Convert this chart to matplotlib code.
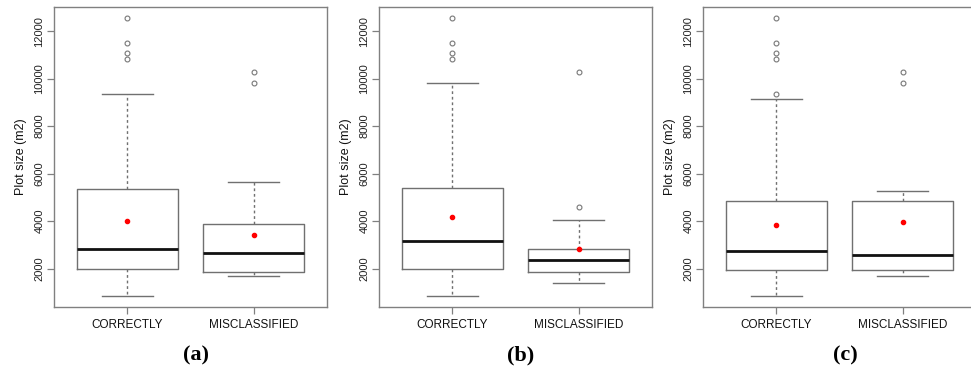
import matplotlib
matplotlib.use('AGG')
import matplotlib.pyplot as plt

plt.rcParams['font.family'] = ['Liberation Sans', 'DejaVu Sans']

groups = ["CORRECTLY", "MISCLASSIFIED"]
panel_labels = ["(a)", "(b)", "(c)"]
yticks = [2000, 4000, 6000, 8000, 10000, 12000]

# per panel: [whislo, q1, med, q3, whishi, mean], fliers
a_correct = [850, 1970, 2810, 5370, 9335, 4005]
a_correct_out = [12560, 11495, 11090, 10835]
a_mis = [1690, 1875, 2675, 3880, 5645, 3430]
a_mis_out = [10300, 9800]

b_correct = [850, 1970, 3150, 5395, 9800, 4190]
b_correct_out = [12560, 11495, 11090, 10835]
b_mis = [1410, 1860, 2365, 2840, 4060, 2815]
b_mis_out = [10300, 4610]

c_correct = [850, 1945, 2760, 4860, 9165, 3840]
c_correct_out = [12560, 11495, 11090, 10835, 9335]
c_mis = [1705, 1945, 2590, 4835, 5280, 3980]
c_mis_out = [10300, 9800]

panels = [
    [(a_correct, a_correct_out), (a_mis, a_mis_out)],
    [(b_correct, b_correct_out), (b_mis, b_mis_out)],
    [(c_correct, c_correct_out), (c_mis, c_mis_out)],
]

edge = '#707070'
frame = '#808080'

fig = plt.figure(figsize=(9.71, 3.82), dpi=100)
lefts = [54, 379, 703]

for i, panel in enumerate(panels):
    ax = fig.add_axes([lefts[i] / 971, 1 - 307 / 382, 273 / 971, 300 / 382])
    stats = []
    for name, (s, out) in zip(groups, panel):
        stats.append(dict(label=name, whislo=s[0], q1=s[1], med=s[2], q3=s[3],
                          whishi=s[4], mean=s[5], fliers=out))
    ax.bxp(stats, positions=[1, 2], widths=0.8, showmeans=True, patch_artist=False,
           boxprops=dict(color=edge, lw=1.0),
           whiskerprops=dict(color=edge, lw=1.0, linestyle=(0, (2, 2))),
           capprops=dict(color=edge, lw=1.0),
           capwidths=0.4,
           medianprops=dict(color='#111111', lw=2.0),
           meanprops=dict(marker='o', markerfacecolor='red', markeredgecolor='red', markersize=3),
           flierprops=dict(marker='o', markerfacecolor='none', markeredgecolor='#777777',
                           markersize=3.5, markeredgewidth=0.8))
    ax.set_xlim(0.42, 2.58)
    ax.set_ylim(382, 13020)
    ax.set_yticks(yticks)
    ax.set_yticklabels([str(t) for t in yticks], rotation=90, va='center', fontsize=8, color='#222222')
    ax.set_xticks([1, 2])
    ax.set_xticklabels(groups, fontsize=8.5, color='#111111')
    ax.tick_params(length=5, color=frame, width=0.9)
    ax.tick_params(axis='y', pad=2)
    ax.tick_params(axis='x', pad=4)
    for sp in ax.spines.values():
        sp.set_color(frame)
        sp.set_linewidth(1.0)
    ax.set_ylabel("Plot size (m2)", fontsize=9, color='#111111', labelpad=5)
    fig.text((lefts[i] + 142) / 971, 1 - 355 / 382, panel_labels[i], ha='center', va='center',
             fontsize=16, fontweight='bold', family=['Liberation Serif', 'DejaVu Serif'])

plt.savefig("out.png", dpi=100)
